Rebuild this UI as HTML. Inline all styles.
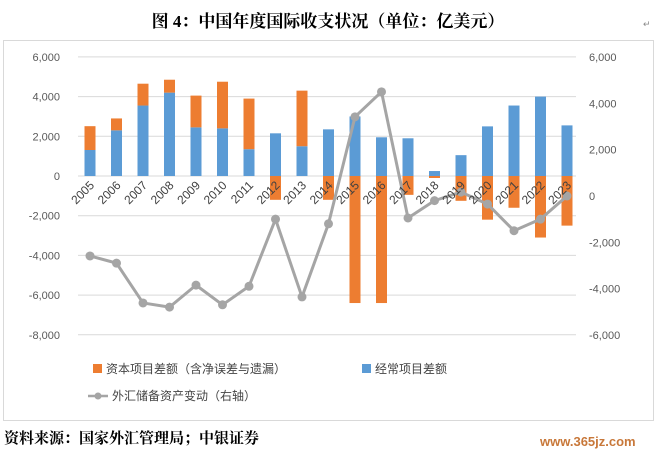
<!DOCTYPE html>
<html><head><meta charset="utf-8">
<style>
body{margin:0;background:#fff;width:657px;height:457px;overflow:hidden;font-family:"Liberation Sans","Noto Sans CJK SC",sans-serif;}
</style></head>
<body>
<svg width="657" height="457" xmlns="http://www.w3.org/2000/svg">
<text x="328" y="27" text-anchor="middle" font-family="'Liberation Serif','Noto Serif CJK SC',serif" font-weight="bold" font-size="17" fill="#000">图 4：中国年度国际收支状况（单位：亿美元）</text>
<text x="643" y="27" font-size="9" fill="#888">↵</text>
<rect x="3.5" y="40.5" width="650" height="380" fill="none" stroke="#d9d9d9"/>
<g id="grid"></g><g id="bars"></g><g id="line"></g><g id="axes"></g>
<g>
<rect x="93" y="364" width="9" height="9" fill="#ed7d31"/>
<text x="106" y="373" font-size="12" fill="#444">资本项目差额（含净误差与遗漏）</text>
<rect x="362" y="364" width="9" height="9" fill="#5b9bd5"/>
<text x="375" y="373" font-size="12" fill="#444">经常项目差额</text>
<line x1="88" y1="396" x2="108" y2="396" stroke="#a5a5a5" stroke-width="2.5"/>
<circle cx="98" cy="396" r="3.5" fill="#a5a5a5"/>
<text x="112" y="400" font-size="12" fill="#444">外汇储备资产变动（右轴）</text>
</g>
<text x="4" y="443" font-family="'Liberation Serif','Noto Serif CJK SC',serif" font-weight="bold" font-size="15" fill="#000">资料来源：国家外汇管理局；中银证券</text>
<text x="540" y="446" font-size="13" font-weight="bold" fill="#c8783a">www.365jz.com</text>
</svg>
<script>
const years=["2005","2006","2007","2008","2009","2010","2011","2012","2013","2014","2015","2016","2017","2018","2019","2020","2021","2022","2023"];
const currentAccount=[1310,2300,3550,4200,2450,2400,1350,2150,1500,2350,3000,1950,1900,250,1050,2500,3550,4000,2550];
const capitalAccount=[1200,600,1100,650,1600,2350,2550,-1200,2800,-1200,-6400,-6400,-950,-100,-1250,-2200,-1600,-3100,-2500];
const reserveChange=[-2590,-2900,-4620,-4800,-3850,-4700,-3900,-1000,-4360,-1200,3420,4500,-950,-200,170,-350,-1500,-1000,0];
const leftTicks=[6000,4000,2000,0,-2000,-4000,-6000,-8000];
const rightTicks=[6000,4000,2000,0,-2000,-4000,-6000];
const NS="http://www.w3.org/2000/svg";
function yL(v){return 176-v*(39.7/2000);}
function yR(v){return 196-v*(46.3/2000);}
function xC(i){return 90+i*26.5;}
function mk(tag,attrs,parent,text){const e=document.createElementNS(NS,tag);for(const k in attrs)e.setAttribute(k,attrs[k]);if(text!==undefined)e.textContent=text;document.getElementById(parent).appendChild(e);return e;}
const fmt=v=>v.toLocaleString("en-US");
leftTicks.forEach(t=>{
 const g=mk("line",{x1:78,x2:576,y1:yL(t),y2:yL(t),stroke:"#d9d9d9","stroke-width":1},"grid");
 
 
 const l=mk("text",{x:60,y:yL(t)+4,"text-anchor":"end","font-size":11,fill:"#595959"},"axes",fmt(t));
 
 
});
rightTicks.forEach(t=>{
 const l=mk("text",{x:589,y:yR(t)+4,"font-size":11,fill:"#595959"},"axes",fmt(t));
 
 
});
const bw=11;
years.forEach((yr,i)=>{
 const x=xC(i)-bw/2, c=currentAccount[i], k=capitalAccount[i];
 const b=mk("rect",{x:x,y:Math.min(yL(c),yL(0)),width:bw,height:Math.abs(yL(c)-yL(0)),fill:"#5b9bd5"},"bars");
 
 
 let base=(k>=0 && c>=0)?c:0;
 const y1=yL(base), y2=yL(base+k);
 const o=mk("rect",{x:x,y:Math.min(y1,y2),width:bw,height:Math.abs(y1-y2),fill:"#ed7d31"},"bars");
 
 
 const tx=xC(i)+5, ty=186;
 const t=mk("text",{x:tx,y:ty,"text-anchor":"end","font-size":12,fill:"#404040",transform:`rotate(-45 ${tx} ${ty})`},"axes",yr);
 
 
});
const pts=reserveChange.map((v,i)=>xC(i)+","+yR(v)).join(" ");
const pl=mk("polyline",{points:pts,fill:"none",stroke:"#a5a5a5","stroke-width":3,"stroke-linejoin":"round"},"line");


reserveChange.forEach((v,i)=>{
 const c=mk("circle",{cx:xC(i),cy:yR(v),r:4.5,fill:"#a5a5a5"},"line");
 
 
});
</script>
</body></html>
